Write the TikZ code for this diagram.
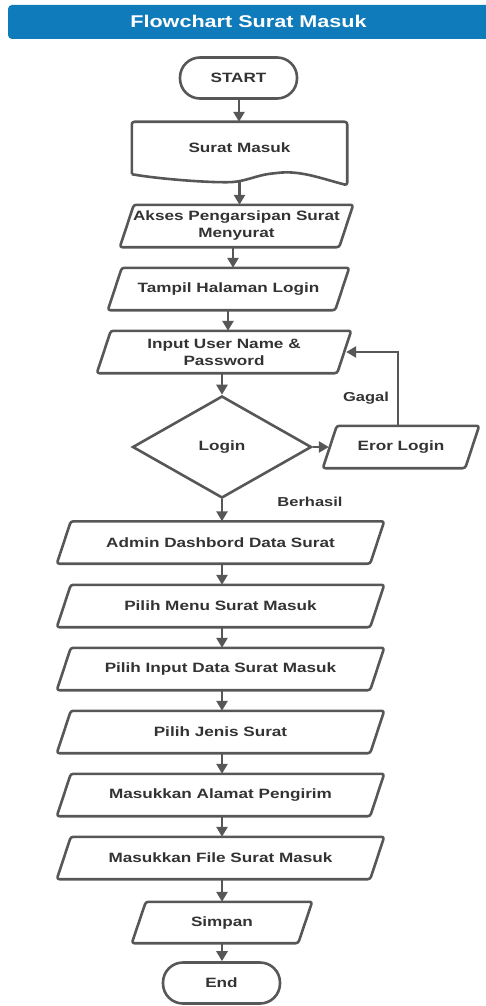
\documentclass[tikz,border=0pt]{standalone}
\usepackage{fontspec}
\setmainfont{Liberation Sans}[FakeStretch=1.27]
\usetikzlibrary{shapes.geometric,arrows.meta,calc}
\definecolor{ink}{HTML}{575757}
\definecolor{txt}{HTML}{333333}
\definecolor{banner}{HTML}{0F7BBB}
\tikzset{
  lbl/.style={font=\bfseries\fontsize{13.5}{15}\selectfont, text=txt, align=center, inner sep=0pt},
  term/.style={lbl, draw=ink, line width=2.6pt, rectangle, rounded corners=20pt,
    minimum width=117pt, minimum height=41pt},
  iobox/.style={lbl, rectangle, minimum height=42pt},
  decision/.style={lbl, diamond, draw=ink, line width=2.6pt, minimum width=179pt, minimum height=102pt},
  outline/.style={draw=ink, line width=2.6pt, rounded corners=2.5pt, line join=round},
  arr/.style={draw=ink, line width=2.6pt, -{Triangle[width=11pt,length=10pt]}},
  side/.style={font=\bfseries\fontsize{13}{15}\selectfont, text=txt, inner sep=0pt}
}
\begin{document}
\begin{tikzpicture}[x=1pt,y=-1pt]
\useasboundingbox (0,0) rectangle (486,1006);

% header banner
\fill[banner, rounded corners=4pt] (8,5) rectangle (495,39);
\node[font=\bfseries\fontsize{17}{18}\selectfont, text=white, inner sep=0pt] (title) at (248.5,21) {Flowchart Surat Masuk};

% terminators and decision
\node[term] (start) at (238.5,78) {START};
\node[lbl, minimum width=215pt, minimum height=52pt] (doc) at (239.5,148) {Surat Masuk};
\node[decision] (login) at (222,447) {Login};
\node[term] (end) at (221.5,983) {End};

% input/output boxes
\node[iobox, minimum width=233pt] (akses) at (236.5,226) {Akses Pengarsipan Surat\\[2pt]Menyurat};
\node[iobox, minimum width=241pt] (tampil) at (228.5,289) {Tampil Halaman Login};
\node[iobox, minimum width=254pt] (inp) at (224,352) {Input User Name \&\\[2pt]Password};
\node[iobox, minimum width=156pt] (eror) at (401,447) {Eror Login};
\node[iobox, minimum width=327pt] (admin) at (220.5,542.5) {Admin Dashbord Data Surat};
\node[iobox, minimum width=327pt] (menu) at (220.5,606) {Pilih Menu Surat Masuk};
\node[iobox, minimum width=327pt] (pinput) at (220.5,669) {Pilih Input Data Surat Masuk};
\node[iobox, minimum width=327pt] (jenis) at (220.5,732) {Pilih Jenis Surat};
\node[iobox, minimum width=327pt] (alamat) at (220.5,795) {Masukkan Alamat Pengirim};
\node[iobox, minimum width=327pt] (file) at (220.5,858) {Masukkan File Surat Masuk};
\node[iobox, minimum width=180pt, minimum height=41pt] (simpan) at (222,922.5) {Simpan};

% document outline with wavy bottom edge
\draw[outline] (doc.south west) -- (doc.north west) -- (doc.north east) -- ([yshift=-11pt]doc.south east)
  .. controls ([xshift=-27pt,yshift=-4pt]doc.south east) and ([xshift=-47pt,yshift=4pt]doc.south east)
  .. ([xshift=-72pt,yshift=1pt]doc.south east)
  .. controls ([xshift=-92pt,yshift=-1pt]doc.south east) and ([xshift=-102pt,yshift=-8pt]doc.south east)
  .. ([xshift=-122pt,yshift=-8pt]doc.south east)
  .. controls ([xshift=-142pt,yshift=-8pt]doc.south east) and ([xshift=28pt,yshift=-5pt]doc.south west)
  .. (doc.south west);

% parallelogram outlines
\foreach \n in {akses,tampil,inp,eror,admin,menu,pinput,jenis,alamat,file,simpan}
  \draw[outline] ([xshift=14pt]\n.north west) -- (\n.north east) -- ([xshift=-14pt]\n.south east) -- (\n.south west) -- cycle;

% connectors
\draw[arr] (start.south -| 239,0) -- (doc.north -| 239,0);
\draw[arr] ([yshift=-7pt]doc.south -| 239.5,0) -- (akses.north -| 239.5,0);
\draw[arr] (akses.south -| 233,0) -- (tampil.north -| 233,0);
\draw[arr] (tampil.south -| 228,0) -- (inp.north -| 228,0);
\draw[arr] (inp.south -| 222,0) -- (login.north);
\draw[arr] (login.east) -- ([xshift=6pt]eror.west);
\draw[arr] (eror.north -| 398,0) |- ([xshift=-5pt]inp.east);
\draw[arr] (login.south) -- (admin.north -| login.south);
\draw[arr] (admin.south -| 222,0) -- (menu.north -| 222,0);
\draw[arr] (menu.south -| 222,0) -- (pinput.north -| 222,0);
\draw[arr] (pinput.south -| 222,0) -- (jenis.north -| 222,0);
\draw[arr] (jenis.south -| 222,0) -- (alamat.north -| 222,0);
\draw[arr] (alamat.south -| 222,0) -- (file.north -| 222,0);
\draw[arr] (file.south -| 222,0) -- (simpan.north -| 222,0);
\draw[arr] (simpan.south -| 222,0) -- (end.north -| 222,0);

% branch labels
\node[side] (gagal) at (366,398) {Gagal};
\node[side] (berhasil) at (310,502) {Berhasil};
\end{tikzpicture}
\end{document}
